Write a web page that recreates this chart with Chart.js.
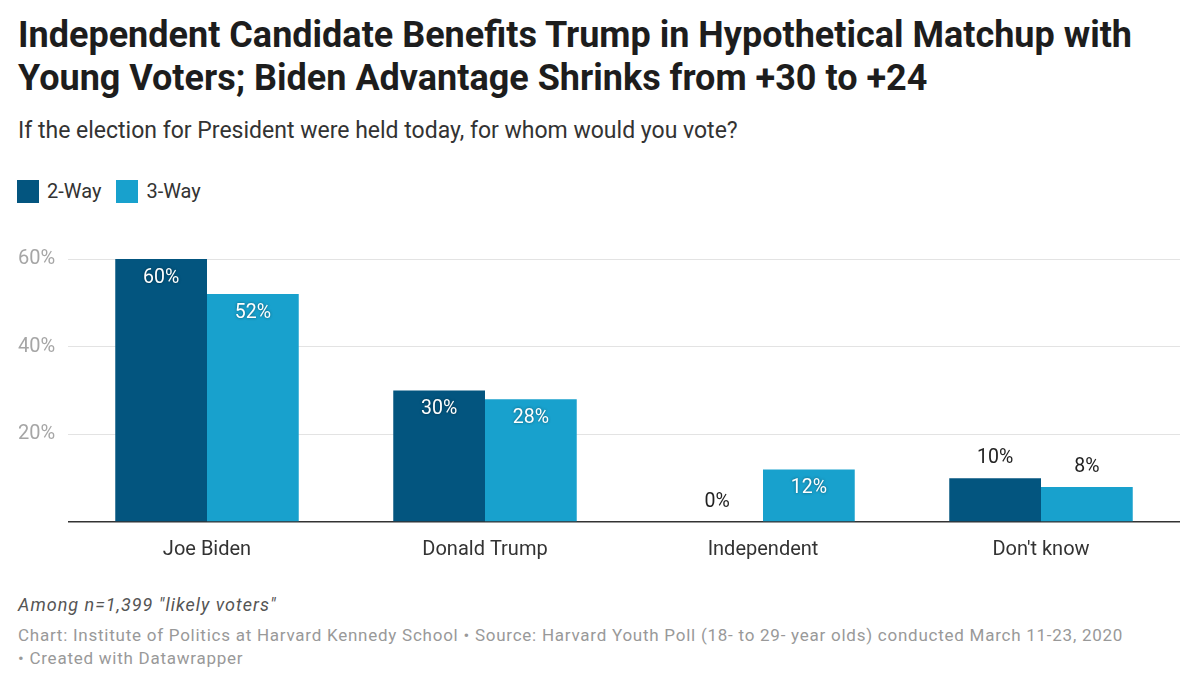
<!DOCTYPE html>
<html>
<head>
<meta charset="utf-8">
<script src="https://cdn.jsdelivr.net/npm/chart.js@4"></script>
<style>
  html, body { margin: 0; padding: 0; background: #fff; }
  body { width: 1200px; height: 700px; position: relative; font-family: Roboto, "Noto Sans", sans-serif; overflow: hidden; }
  #title { position: absolute; left: 18px; top: 14px; font-size: 36px; font-weight: 700; line-height: 43px; color: #1d1d1d; white-space: nowrap; }
  #subtitle { position: absolute; left: 18px; top: 117px; font-size: 23px; line-height: 28px; color: #333; white-space: nowrap; }
  #legend { position: absolute; left: 17px; top: 180px; font-size: 20px; line-height: 23px; color: #333; display: flex; align-items: center; }
  .lg { display: flex; align-items: center; margin-right: 15px; }
  .sw { width: 22px; height: 23px; margin-right: 8px; }
  #note { position: absolute; left: 18px; top: 593px; font-size: 18px; font-style: italic; color: #555; line-height: 24px; letter-spacing: 1px; white-space: nowrap; }
  #source { position: absolute; left: 18px; top: 624px; font-size: 17px; color: #999; line-height: 23px; letter-spacing: 0.75px; white-space: nowrap; }
  #wrap { position: absolute; left: 0; top: 230px; width: 1200px; height: 348px; }
</style>
</head>
<body>
<div id="title">Independent Candidate Benefits Trump in Hypothetical Matchup with<br>Young Voters; Biden Advantage Shrinks from +30 to +24</div>
<div id="subtitle">If the election for President were held today, for whom would you vote?</div>
<div id="legend"></div>
<div id="wrap"><canvas id="c"></canvas></div>
<div id="note">Among n=1,399 "likely voters"</div>
<div id="source">Chart: Institute of Politics at Harvard Kennedy School • Source: Harvard Youth Poll (18- to 29- year olds) conducted March 11-23, 2020<br>• Created with Datawrapper</div>
<script>
const categories = ["Joe Biden", "Donald Trump", "Independent", "Don't know"];
const seriesNames = ["2-Way", "3-Way"];
const twoWay = [60, 30, 0, 10];
const threeWay = [52, 28, 12, 8];
const yTicks = [0, 20, 40, 60];
const colors = ["#03557f", "#18a1cd"];

const legend = document.getElementById('legend');
seriesNames.forEach((n, i) => {
  const d = document.createElement('div'); d.className = 'lg';
  d.innerHTML = '<div class="sw" style="background:' + colors[i] + '"></div><span>' + n + '</span>';
  legend.appendChild(d);
});

const labelPlugin = {
  id: 'barLabels',
  afterDatasetsDraw(chart) {
    const ctx = chart.ctx;
    const yScale = chart.scales.y;
    chart.data.datasets.forEach((ds, di) => {
      const meta = chart.getDatasetMeta(di);
      meta.data.forEach((bar, i) => {
        const v = ds.data[i];
        const text = v + '%';
        const h = yScale.getPixelForValue(0) - bar.y;
        ctx.save();
        ctx.font = '19.5px Roboto, "Noto Sans", sans-serif';
        ctx.textAlign = 'center';
        ctx.textBaseline = 'middle';
        if (h > 48) {
          ctx.shadowColor = 'rgba(0,0,0,0.45)';
          ctx.shadowBlur = 3;
          ctx.fillStyle = '#ffffff';
          ctx.fillText(text, bar.x, bar.y + 19);
        } else {
          ctx.fillStyle = '#222';
          ctx.fillText(text, bar.x, bar.y - 20);
        }
        ctx.restore();
      });
    });
  }
};

new Chart(document.getElementById('c'), {
  type: 'bar',
  data: {
    labels: categories,
    datasets: [
      { label: seriesNames[0], data: twoWay, backgroundColor: colors[0], categoryPercentage: 0.66, barPercentage: 1.0 },
      { label: seriesNames[1], data: threeWay, backgroundColor: colors[1], categoryPercentage: 0.66, barPercentage: 1.0 }
    ]
  },
  options: {
    responsive: true,
    maintainAspectRatio: false,
    animation: false,
    layout: { padding: { left: 18, right: 20, top: 29, bottom: 0 } },
    plugins: { legend: { display: false }, tooltip: { enabled: false } },
    scales: {
      x: {
        grid: { display: false, drawTicks: false },
        border: { display: false },
        ticks: { color: '#333', font: { size: 20, family: 'Roboto' }, padding: 16 }
      },
      y: {
        min: 0, max: 60,
        afterFit(s) { s.width = 50; },
        afterBuildTicks(s) { s.ticks = yTicks.map(v => ({ value: v })); },
        border: { display: false },
        grid: {
          drawTicks: false,
          color: c => c.tick && c.tick.value === 0 ? '#333' : '#e3e3e3',
          lineWidth: c => c.tick && c.tick.value === 0 ? 1.5 : 1
        },
        ticks: {
          crossAlign: 'far',
          padding: 0,
          color: '#a6a6a6',
          font: { size: 20, family: 'Roboto' },
          callback: v => v === 0 ? '' : v + '%'
        }
      }
    }
  },
  plugins: [labelPlugin]
});
</script>
</body>
</html>
